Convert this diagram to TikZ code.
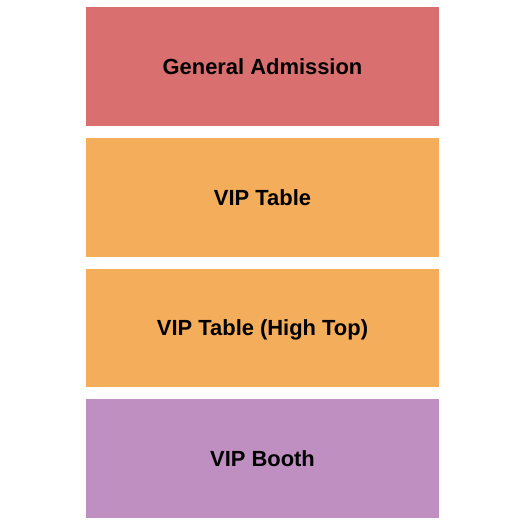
\documentclass[tikz,border=0pt]{standalone}
\usepackage{fontspec}
\setmainfont{Liberation Sans}
\usepackage{xcolor}
\definecolor{sectionColorA}{HTML}{D9706F}
\definecolor{sectionColorB}{HTML}{F4AD5A}
\definecolor{sectionColorC}{HTML}{F4AD5A}
\definecolor{sectionColorD}{HTML}{BF8FC1}
\definecolor{labelTextColor}{HTML}{000000}
\def\textA{General Admission}
\def\textB{VIP Table}
\def\textC{VIP Table (High Top)}
\def\textD{VIP Booth}
\tikzset{sectionlabel/.style={anchor=center, inner sep=0pt, text height=15.75bp, text depth=0pt,
  text=labelTextColor, font=\fontsize{22}{26}\selectfont\bfseries}}
\begin{document}
\begin{tikzpicture}[x=1bp,y=-1bp]
\useasboundingbox (0, 0) rectangle (525, 525);

% section layer
\begin{scope}[shift={(86, 0)}]
\begin{scope}[shift={(0, 7)}]
\fill[color=sectionColorA]
(0, 0) rectangle (353, 119) node[midway, sectionlabel] (secA) {\textA};
\end{scope}
\begin{scope}[shift={(0, 138)}]
\fill[color=sectionColorB]
(0, 0) rectangle (353, 118.5) node[midway, sectionlabel] (secB) {\textB};
\end{scope}
\begin{scope}[shift={(0, 268.5)}]
\fill[color=sectionColorC]
(0, 0) rectangle (353, 118.5) node[midway, sectionlabel] (secC) {\textC};
\end{scope}
\begin{scope}[shift={(0, 399)}]
\fill[color=sectionColorD]
(0, 0) rectangle (353, 119) node[midway, sectionlabel] (secD) {\textD};
\end{scope}
\end{scope}

\end{tikzpicture}
\end{document}
